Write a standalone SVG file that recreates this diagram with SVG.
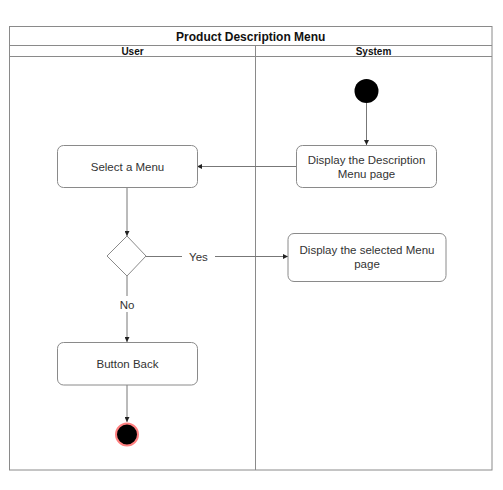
<svg xmlns="http://www.w3.org/2000/svg" width="503" height="490" viewBox="0 0 503 490">
<defs>
<style>
.pool{fill:none;stroke:#8a8a8a;stroke-width:1}
.node{fill:#ffffff;stroke:#8a8a8a;stroke-width:1}
.t{font-family:"Liberation Sans",Arial,sans-serif;font-size:11.5px;fill:#333333;text-anchor:middle}
.h{font-family:"Liberation Sans",Arial,sans-serif;font-weight:bold;fill:#111111;text-anchor:middle}
.edge{fill:none;stroke:#777777;stroke-width:1}
</style>
<marker id="arr" viewBox="0 0 6 6" refX="6" refY="3" markerWidth="5" markerHeight="5" orient="auto" markerUnits="userSpaceOnUse">
<path d="M0,0 L6,3 L0,6 z" fill="#222222"/>
</marker>
</defs>
<rect width="503" height="490" fill="#ffffff"/>
<g id="pool">
<rect class="pool" x="9.5" y="26.5" width="482.5" height="443.5"/>
<line class="pool" x1="9.5" y1="45.5" x2="492" y2="45.5"/>
<line class="pool" x1="9.5" y1="56.5" x2="492" y2="56.5"/>
<line class="pool" x1="255.5" y1="45.5" x2="255.5" y2="470"/>
<text class="h" x="250.75" y="40.5" font-size="12">Product Description Menu</text>
<text class="h" x="132.5" y="54.5" font-size="10">User</text>
<text class="h" x="373.5" y="54.5" font-size="10">System</text>
</g>
<g id="connectors">
<line class="edge" x1="366.5" y1="103" x2="366.5" y2="145" marker-end="url(#arr)"/>
<line class="edge" x1="296" y1="166.5" x2="197" y2="166.5" marker-end="url(#arr)"/>
<line class="edge" x1="127" y1="187" x2="127" y2="236" marker-end="url(#arr)"/>
<line class="edge" x1="146" y1="256.5" x2="182" y2="256.5"/>
<line class="edge" x1="215" y1="256.5" x2="288" y2="256.5" marker-end="url(#arr)"/>
<text class="t" x="198.5" y="260.5">Yes</text>
<line class="edge" x1="127" y1="276" x2="127" y2="296"/>
<line class="edge" x1="127" y1="312" x2="127" y2="342" marker-end="url(#arr)"/>
<text class="t" x="127" y="308.5">No</text>
<line class="edge" x1="127" y1="385" x2="127" y2="422" marker-end="url(#arr)"/>
</g>
<g id="start">
<circle cx="366.5" cy="91" r="12" fill="#000000"/>
</g>
<g id="display-description">
<rect class="node" x="296.5" y="145.5" width="140" height="42" rx="6"/>
<text class="t" x="366.5" y="163.5">Display the Description</text>
<text class="t" x="366.5" y="177.5">Menu page</text>
</g>
<g id="select-menu">
<rect class="node" x="57.5" y="145.5" width="140" height="42" rx="6"/>
<text class="t" x="127.5" y="170.5">Select a Menu</text>
</g>
<g id="decision">
<path class="node" d="M127,236 L146,256 L127,276 L107,256 Z"/>
</g>
<g id="display-selected">
<rect class="node" x="288" y="233.5" width="158" height="48" rx="6"/>
<text class="t" x="367" y="254">Display the selected Menu</text>
<text class="t" x="367" y="268">page</text>
</g>
<g id="button-back">
<rect class="node" x="57.5" y="342.5" width="140" height="42.5" rx="6"/>
<text class="t" x="127.5" y="367.5">Button Back</text>
</g>
<g id="end">
<circle cx="127" cy="434.5" r="11" fill="#000000" stroke="#ff8080" stroke-width="2"/>
</g>
</svg>
